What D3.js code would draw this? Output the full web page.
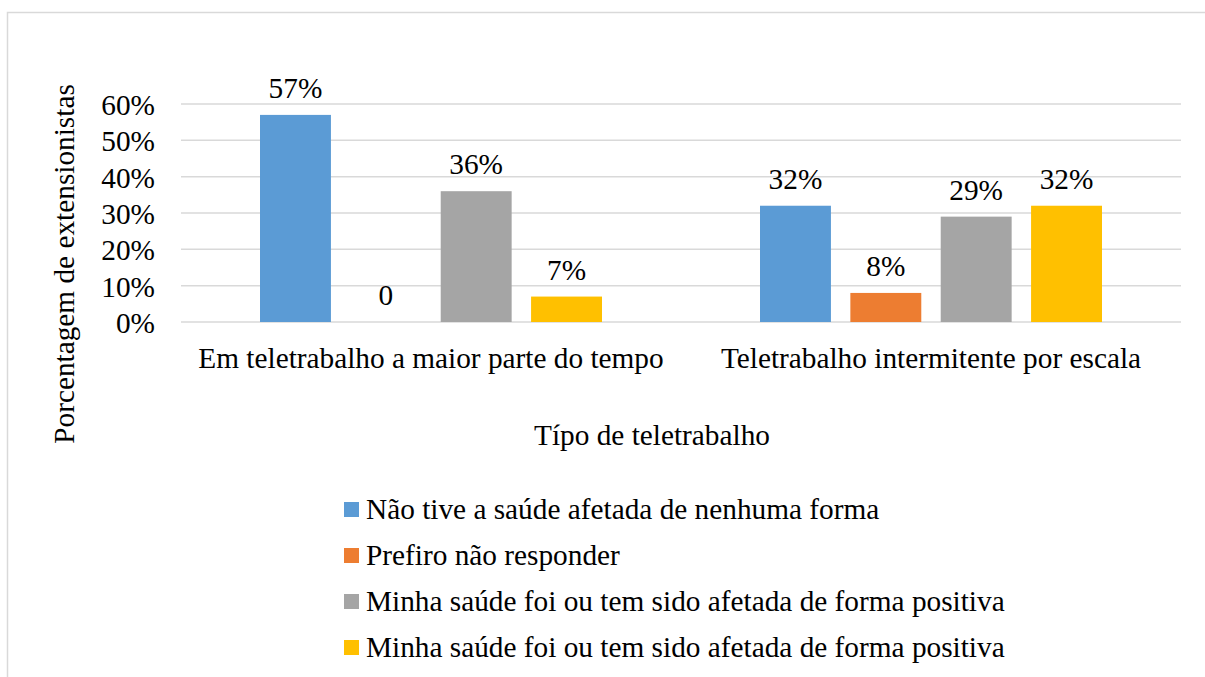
<!DOCTYPE html>
<html>
<head>
<meta charset="utf-8">
<script src="https://cdn.jsdelivr.net/npm/d3@7"></script>
<style>
  html, body { margin: 0; padding: 0; background: #fff; }
  svg { display: block; }
</style>
</head>
<body>
<svg id="fig" width="1205" height="677"></svg>
<script>
// Categories (tipo de teletrabalho)
const categories = [
  "Em teletrabalho a maior parte do tempo",
  "Teletrabalho intermitente por escala"
];

// Series names (legend entries) and their colours
const seriesNames = [
  "Não tive a saúde afetada de nenhuma forma",
  "Prefiro não responder",
  "Minha saúde foi ou tem sido afetada de forma positiva",
  "Minha saúde foi ou tem sido afetada de forma positiva"
];
const seriesColors = ["#5b9bd5", "#ed7d31", "#a5a5a5", "#ffc000"];

// Values per series, one per category (fractions)
const s1 = [0.57, 0.32];
const s2 = [0.00, 0.08];
const s3 = [0.36, 0.29];
const s4 = [0.07, 0.32];
const seriesValues = [s1, s2, s3, s4];

// Data label text per series, one per category
const labels1 = ["57%", "32%"];
const labels2 = ["0", "8%"];
const labels3 = ["36%", "29%"];
const labels4 = ["7%", "32%"];
const seriesLabels = [labels1, labels2, labels3, labels4];

// Y axis ticks
const yTicks = [0, 0.1, 0.2, 0.3, 0.4, 0.5, 0.6];

const yTitle = "Porcentagem de extensionistas";
const xTitle = "Típo de teletrabalho";

const FONT = "Liberation Serif";
const fontSize = 29.3;

const svg = d3.select("#fig");
const W = 1205, H = 677;
const plot = { left: 181, right: 1181, top: 104, bottom: 322 };

function styleText(sel) {
  return sel
    .style("font-family", FONT)
    .style("font-size", fontSize + "px")
    .style("fill", "#000");
}

// Chart frame
svg.append("rect")
  .attr("x", 7.5).attr("y", 12.5)
  .attr("width", W + 10).attr("height", H + 10)
  .attr("fill", "none").attr("stroke", "#d9d9d9").attr("stroke-width", 1.5);

const y = d3.scaleLinear().domain([0, 0.6]).range([plot.bottom, plot.top]);
const x0 = d3.scaleBand().domain(categories).range([plot.left, plot.right]).paddingInner(0).paddingOuter(0);
const x1 = d3.scaleBand().domain(d3.range(seriesNames.length))
  .range([79, x0.bandwidth() - 79]).paddingInner(0.215).paddingOuter(0);

// Gridlines
svg.append("g").selectAll("line").data(yTicks).join("line")
  .attr("x1", plot.left).attr("x2", plot.right)
  .attr("y1", d => y(d)).attr("y2", d => y(d))
  .attr("stroke", "#d9d9d9").attr("stroke-width", 1.5);

// Y axis tick labels
const yAxis = d3.axisLeft(y).tickValues(yTicks).tickFormat(d3.format(".0%")).tickSize(0).tickPadding(0);
const gy = svg.append("g").attr("transform", `translate(${155},0)`).call(yAxis);
gy.attr("font-family", FONT).attr("font-size", fontSize);
gy.select(".domain").remove();
styleText(gy.selectAll("text")).attr("fill", null).attr("dy", "0.36em");

// Bars with value labels
const groups = svg.append("g").selectAll("g").data(categories).join("g")
  .attr("transform", d => `translate(${x0(d)},0)`);

groups.each(function(cat, ci) {
  const g = d3.select(this);
  seriesValues.forEach((vals, si) => {
    const v = vals[ci];
    g.append("rect")
      .attr("x", x1(si))
      .attr("y", y(v))
      .attr("width", x1.bandwidth())
      .attr("height", plot.bottom - y(v))
      .attr("fill", seriesColors[si]);
    styleText(g.append("text"))
      .attr("x", x1(si) + x1.bandwidth() / 2)
      .attr("y", y(v) - 17)
      .attr("text-anchor", "middle")
      .text(seriesLabels[si][ci]);
  });
});

// Category labels
const xAxis = d3.axisBottom(x0).tickSize(0).tickPadding(0);
const gx = svg.append("g").attr("transform", `translate(0,${plot.bottom})`).call(xAxis);
gx.attr("font-family", FONT).attr("font-size", fontSize);
gx.select(".domain").remove();
styleText(gx.selectAll("text")).attr("fill", null).attr("dy", null).attr("y", 46);

// Axis titles
styleText(svg.append("text"))
  .attr("transform", `translate(74,264) rotate(-90)`)
  .attr("text-anchor", "middle")
  .text(yTitle);

styleText(svg.append("text"))
  .attr("x", 652).attr("y", 445)
  .attr("text-anchor", "middle")
  .text(xTitle);

// Legend
const legend = svg.append("g").selectAll("g").data(seriesNames).join("g")
  .attr("transform", (d, i) => `translate(344,${509.5 + i * 46})`);
legend.append("rect")
  .attr("x", 0).attr("y", -7.5).attr("width", 15).attr("height", 15)
  .attr("fill", (d, i) => seriesColors[i]);
styleText(legend.append("text"))
  .attr("x", 22).attr("y", 9.5)
  .text(d => d);
</script>
</body>
</html>
